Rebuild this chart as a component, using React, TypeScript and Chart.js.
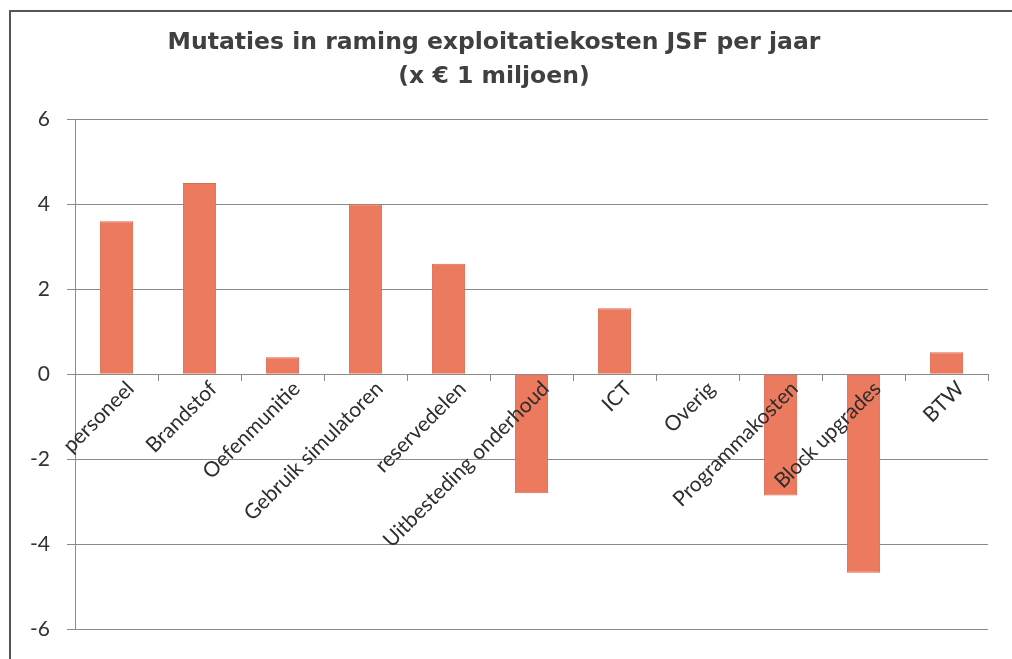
import React, { useEffect, useRef } from "react";
import { Chart, registerables } from "chart.js";

Chart.register(...registerables);

const titleLines = ["Mutaties in raming exploitatiekosten JSF per jaar", "(x € 1 miljoen)"];
const categories = [
  "personeel",
  "Brandstof",
  "Oefenmunitie",
  "Gebruik simulatoren",
  "reservedelen",
  "Uitbesteding onderhoud",
  "ICT",
  "Overig",
  "Programmakosten",
  "Block upgrades",
  "BTW",
];
const values = [3.6, 4.5, 0.4, 4.0, 2.6, -2.8, 1.55, 0, -2.85, -4.67, 0.52];
const yMin = -6;
const yMax = 6;
const yStep = 2;

export default function App() {
  const canvasRef = useRef<HTMLCanvasElement | null>(null);

  useEffect(() => {
    const canvas = canvasRef.current;
    if (!canvas) return;
    const chart = new Chart(canvas, {
      type: "bar",
      data: {
        labels: categories,
        datasets: [
          {
            label: "Mutaties",
            data: values,
            backgroundColor: "#EC7A5F",
            borderColor: "#DE6A4C",
            borderWidth: 1,
            categoryPercentage: 0.8,
            barPercentage: 0.5,
          },
        ],
      },
      options: {
        animation: false,
        responsive: false,
        devicePixelRatio: 1,
        layout: { padding: { left: 0, right: 24, top: 0, bottom: 29 } },
        plugins: {
          legend: { display: false },
          tooltip: { enabled: false },
          title: {
            display: true,
            text: titleLines,
            color: "#404040",
            font: { family: "DejaVu Sans", size: 23.5, weight: "bold", lineHeight: 1.45 },
            padding: { top: 26, bottom: 25 },
          },
        },
        scales: {
          x: {
            position: { y: 0 },
            offset: true,
            grid: {
              display: true,
              drawOnChartArea: false,
              drawTicks: true,
              tickLength: 6,
              color: "#8a8a8a",
              offset: true,
            },
            border: { display: true, color: "#8a8a8a", width: 1 },
            ticks: {
              z: 1,
              autoSkip: false,
              minRotation: 45,
              maxRotation: 45,
              padding: -4,
              labelOffset: 14,
              color: "#2e2e2e",
              font: { family: "Lato", size: 21 },
            },
          },
          y: {
            min: yMin,
            max: yMax,
            afterFit: (scale: any) => {
              scale.width = 75;
            },
            grid: {
              color: "#8a8a8a",
              lineWidth: 1,
              tickLength: 8,
              drawTicks: true,
            },
            border: { display: true, color: "#8a8a8a", width: 1 },
            ticks: {
              stepSize: yStep,
              padding: 17,
              color: "#333333",
              font: { family: "Lato", size: 21 },
            },
          },
        },
      },
    });
    return () => chart.destroy();
  }, []);

  return (
    <div style={{ position: "fixed", left: 0, top: 0, width: 1012, height: 659, background: "#ffffff", overflow: "hidden" }}>
      <canvas ref={canvasRef} width={1012} height={659} style={{ display: "block" }} />
      <div
        style={{
          position: "absolute",
          left: 9,
          top: 10,
          width: 1010,
          height: 660,
          borderLeft: "2px solid #555555",
          borderTop: "2px solid #555555",
          pointerEvents: "none",
        }}
      />
    </div>
  );
}
